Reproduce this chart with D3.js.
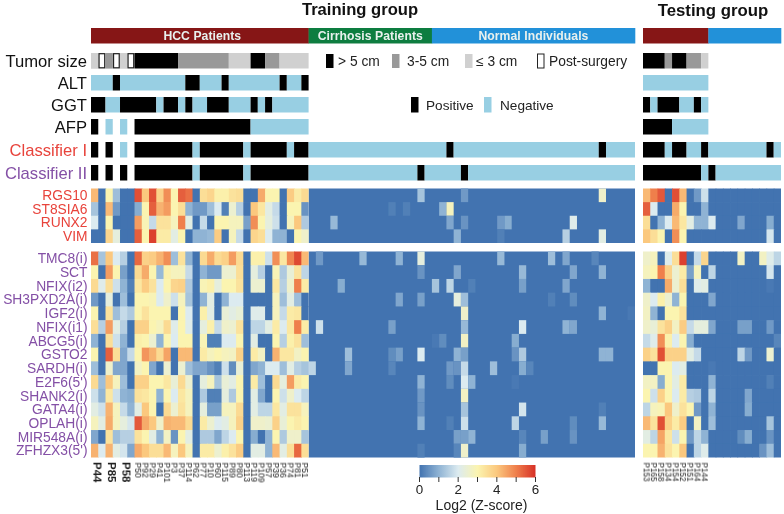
<!DOCTYPE html>
<html><head><meta charset="utf-8">
<style>html,body{margin:0;padding:0;background:#fff}svg{display:block}text{font-family:"Liberation Sans",Arial,sans-serif;filter:blur(.3px)}</style>
<script src="https://cdn.jsdelivr.net/npm/d3@7"></script></head><body>
<svg id="c" width="784" height="514"></svg>
<script>
const genesTop = ["RGS10","ST8SIA6","RUNX2","VIM"];
const genesBottom = ["TMC8(i)","SCT","NFIX(i2)","SH3PXD2A(i)","IGF2(i)","NFIX(i1)","ABCG5(i)","GSTO2","SARDH(i)","E2F6(5')","SHANK2(i)","GATA4(i)","OPLAH(i)","MIR548A(i)","ZFHZX3(5')"];
const trainingPatients = ["P44","","P85","","P58","","P50","P92","P29","P41","P101","P3","P37","P114","P62","P77","P10","P60","P115","P89","P80","P113","P119","P109","P57","P39","P36","P74","P81","P51"];
const testingPatients = ["P153","P165","P158","P134","P154","P152","P151","P164","P144"];
// Log2(Z-score) per gene, HCC patients of the training group (genes in display order)
const hccRows = [
[4.2,0,3,1.2,0,0,5.6,4,5.6,3.8,4.8,3,5.4,5.2,0,3.5,3.7,3.1,3.1,3.4,3.5,0,0,4.4,3,3,0,3.9,3.2,3.6],
[1.3,0,4.2,.6,0,0,.9,3,5.4,4.3,4.6,3,3.5,1,.6,.6,1.2,2,.2,2.5,1.5,0,4,3.3,2.2,1.7,0,3,3,.5],
[2,0,3,0,0,0,4.6,2.9,1.7,3.4,3.4,2.8,5,2.2,0,1.7,0,3,3,2.8,2.8,.7,4.8,3,2.3,1.8,0,2.8,4,1.4],
[0,0,3.7,2.3,0,0,5.4,3,5.8,3.2,3.2,2.2,3,0,1,1,1.1,3.9,0,2.8,1.7,0,3.7,3.5,2,1,1,0,3,2.6],
[5.2,1.3,4,2,1.5,0,5.3,3.8,3.9,4.3,4.8,1.2,3.4,1,0,3.6,4.4,3.6,3.8,4.6,3.6,0,3.1,3.1,1.8,4.8,3.3,4.9,5.7,4.2],
[3,0,4.6,3,.7,0,3.6,4.4,3,1.1,3.1,2.8,2.8,1.7,0,1,.6,.6,2.5,2.5,3.5,0,2.3,1.5,0,2.9,1.4,2.4,3.4,1.6],
[3.6,2.1,3.5,1.8,1,.2,3.3,3.9,3.4,2,3,3.7,3.8,1.4,0,2.9,3.1,2.3,3,3,3.4,0,2.5,2.5,0,3.3,1.5,2.6,5,3.2],
[.6,0,2.3,0,1.2,0,3,3,2.9,2,2.6,1.8,2.8,1.3,0,1,2.2,0,1,2,2,0,0,0,0,2.8,1.2,2.2,1.2,0],
[3,0,3.4,1.2,1.7,1.4,3,3.4,3,3,3,0,3,2,0,3.1,2.2,0,2.4,2.2,2.4,0,2.1,2.1,0,2.8,1.7,3.2,3.3,0],
[3.5,1.5,4.6,2.2,1.5,0,3.8,3.8,3,2.8,3.6,2.1,3,2.1,0,2.3,3.1,1.7,2.6,2.5,3.4,0,1.6,1.6,2.2,3.2,2,3.3,5,3.2],
[1,0,3.5,1.8,1,0,3.1,3,2.5,1,3,2,3,3,0,2.9,.2,.2,2,2,3,0,2.2,0,0,3,1.5,3.1,3.4,1.2],
[3,0,5.4,3.5,.8,1.7,3,4.7,4.3,3.6,4.5,0,4.2,4.2,0,3.2,2.8,3,2.8,2.7,3.8,0,3.2,2.7,0,4.3,3.3,3.3,2.7,3],
[1.2,0,2.6,.8,.8,0,2.7,3,.8,0,2.5,0,2.5,1.2,.8,.8,.5,.2,1.8,.4,2.4,0,.8,1,2,2,1.2,2.2,1.5,1.3],
[3.6,1.2,4,2.8,1.2,0,3.8,3.8,3,3,3.3,2.4,3.6,2.5,0,2.3,2.8,1.3,2.4,2.2,3,0,3.2,1.2,0,3.6,2.3,4.6,3.2,3],
[1.8,1,3.3,1.8,1,.9,3.4,3.3,3,1,3,2,3.3,2.8,0,1.4,.2,.2,2.3,1.4,3,0,2.2,.8,0,3,1.8,2.6,2,1.6],
[2.2,1.8,4.3,2.8,1.7,1,2.2,4,3,0,3.6,2.5,3.4,2.8,0,2.3,.7,.7,2.8,2.8,3.6,0,2.2,1.6,1.6,3.3,2.2,3.4,3.4,2.8],
[2.8,2.2,4.4,2.8,2.3,1.9,5.5,4.4,4,2.6,4.3,4.2,4.2,3.6,0,3.2,2.5,2,2.2,2.8,3.8,0,2.6,2.6,2.5,3.8,2.4,3,3.2,3],
[.8,0,3.4,1.2,1.5,1.5,3.4,3,2.2,1,2.7,.5,3,2.2,0,1.4,1.4,.8,1.6,2,3,0,.9,0,1,3,1.4,2.6,2.6,1.3],
[4.3,2,4.3,2.2,1.9,.8,4.4,4,3.5,3.5,4.2,2.8,4,2.8,0,3.2,3.2,2.5,3.1,3.4,3.9,0,2.2,2.2,1,4.2,2.2,3.5,5.3,3.5]];
// Non-zero cells among the 45 cirrhosis and normal columns of the training group: [gene, column, value]
const controlSpots = [
[0,15,1.3],[0,21,.6],[0,40,2.6],
[1,11,.2],[1,13,.2],[1,18,1],[1,19,2.8],
[2,3,1.1],[2,19,.8],[2,21,.5],[2,26,.6],[2,27,.9],[2,36,2.1],
[3,20,1],[3,26,.2],[3,35,1.5],[3,40,2.2],
[4,1,.6],[4,7,1.1],[4,12,1],[4,15,2.3],[4,26,1.1],[4,33,1.2],[4,35,.8],[4,39,.3],
[5,15,.5],[5,20,.8],[5,29,1.1],[5,36,.8],[5,40,1],
[6,4,.9],[6,17,1.3],[6,19,1.6],[6,22,.2],[6,29,.7],[6,35,.8],
[7,12,.8],[7,15,.7],[7,20,2.3],[7,21,1.2],[7,33,.2],[7,36,.4],
[8,21,2.6],[8,40,1],[8,44,.1],
[9,1,1.8],[9,11,.7],[9,21,1.1],[9,29,2],[9,35,1],[9,36,.8],
[10,17,.1],[10,18,.4],[10,21,2.7],[10,28,.9],
[11,5,1.2],[11,11,.4],[11,12,.7],[11,15,2],[11,20,1],[11,21,.7],[11,28,.5],[11,29,1.4],[11,40,1],[11,41,1],
[12,0,1.6],[12,5,.8],[12,11,.3],[12,19,.6],[12,20,.5],[12,21,1.7],[12,25,1.2],[12,29,.9],[12,30,.3],
[13,15,1],[13,19,.4],[13,21,2],[13,22,1],[13,28,.1],
[14,15,.6],[14,21,2.7],
[15,15,.5],[15,21,1.3],[15,29,1.9],[15,40,.2],
[16,15,1],[16,19,.2],[16,21,1.8],[16,28,1.6],[16,36,.4],[16,40,1.1],
[17,20,.7],[17,21,.7],[17,22,1],[17,29,.3],[17,32,.7],[17,36,.5],
[18,15,.2],[18,20,.3],[18,21,2.6],[18,29,.9]];
// Testing group, 19 columns
const testRows = [
[4.2,5,5.5,0,5.6,4.2,0,.6,1.8,0,0,0,0,0,0,0,0,0,0],
[5.4,2,0,0,4.4,3,0,0,1,0,0,0,0,0,0,0,0,0,0],
[3.5,0,1,2,4.2,3.3,2.2,1,1,2,0,0,0,.8,0,0,0,.9,0],
[4,3.5,3,0,4.8,3,0,0,0,0,0,0,0,0,0,0,0,1.9,0],
[2.6,2.8,0,2.1,3.5,5.8,0,1.7,3.7,0,0,0,0,2.7,0,0,2.7,2.1,1.6],
[2.8,3,5,3.8,2.5,3.2,.7,2.8,0,1.6,0,0,0,0,0,0,0,1.9,0],
[1,0,0,4.4,2.5,3.5,0,2.1,2.2,0,0,0,0,0,0,0,0,.1,0],
[2.6,2,3.1,2.5,1,3,0,0,0,.8,0,0,0,0,0,0,0,0,0],
[2.7,1,0,3,3,3.4,0,0,0,0,0,0,0,0,0,0,0,0,0],
[2.6,2.4,3.4,3.8,2.7,3.9,1.7,2.3,2.3,.8,0,0,0,.7,.7,0,0,.6,0],
[1.7,2.1,4.8,3.1,2,3,.9,0,0,0,0,0,0,0,0,0,0,0,.3],
[3.8,3.4,5.6,3.8,3.8,3.8,2.2,1.7,0,0,0,0,0,1.6,.6,0,0,2.5,0],
[0,0,3,3,2,2.2,0,0,0,.1,0,0,0,0,0,0,0,0,0],
[2.7,2.7,.9,3,2.2,3.2,0,0,0,1,0,0,0,0,0,0,0,.2,0],
[3,1.8,3.8,3,2,3.2,1.5,1.4,0,1.6,0,0,0,0,.8,0,0,0,0],
[1.6,2.8,2.9,4,2.6,3.4,3,.6,0,1,0,0,0,0,.9,0,0,0,0],
[4.2,3.4,5.6,3.8,3.2,3.9,0,2.7,0,1.2,0,0,0,0,0,0,0,1.3,0],
[2.2,1.6,4.5,3.3,1.8,3,.6,1.6,1,0,0,0,0,.4,.9,0,0,.5,0],
[3,3,4.3,3.4,3,4,0,1.6,2.1,0,0,0,0,0,0,0,.5,1.2,0]];
// Clinical tracks: B black, G grey, L light grey, P post-surgery, n negative, . blank
const tracks = ["Tumor size","ALT","GGT","AFP","Classifier I","Classifier II"];
const trackColors = ["#111","#111","#111","#111","#e8433b","#8450a6"];
const trainTracks = [
"LPGPLPBBBBBBGGGGGGGLLLBBGGLLLL",
"nnnBnnnnnnnnnBBnnnBnnnnnnnBnnB",
"BBnnBBBBBnBBnBnnBBBnnnBnBnnnnn",
"B.n.n.BBBBBBBBBBBBBBBBnnnnnnnn",
"B.B.n.BBBBBBBBnBBBBBBnBBBBBnBB"+"nnnnnnnnnnnnnnnnnnnBnnnnnnnnnnnnnnnnnnnnBnnnn",
"B.B.B.BBBBBBBBnBBBBBBnBBBBBBBB"+"nnnnnnnnnnnnnnnBnnnnnBnnnnnnnnnnnnnnnnnnnnnnn"];
const testTracks = [
"BBBGBBGGL",
"nnnnnnnnn",
"BnBBBnnBn",
"BBBBnnnnn",
"BBBnBBnnBnnnnnnnnBn",
"BBBBBBBBnBnnnnnnnnn"];
const trainGroups = [["HCC Patients",30,"#861618"],["Cirrhosis Patients",17,"#0f7d41"],["Normal Individuals",28,"#2191d9"]];
const testGroups = [["",9,"#861618"],["",10,"#2191d9"]];
const sizeLegend = [["> 5 cm","B"],["3-5 cm","G"],["≤ 3 cm","L"],["Post-surgery","P"]];
const statusLegend = [["Positive","B"],["Negative","n"]];
const colorStops = [0,1,2,3,4,5,6];
const colorValues = ["#4273b0","#8fb3d4","#dcebf0","#fbf4b0","#fbc87e","#ef7f4c","#d73027"];
const barTicks = [0,1,2,3,4,5,6];
const barLabels = [0,2,4,6];

const svg = d3.select("#c");
const defs = svg.append("defs");
defs.append("filter").attr("id","soft").attr("x","-2%").attr("y","-2%").attr("width","104%").attr("height","104%")
  .append("feGaussianBlur").attr("stdDeviation",0.55);
const color = d3.scaleLinear().domain(colorStops).range(colorValues).clamp(true);
const trackFill = {B:"#050505",G:"#999999",L:"#d0d0d0",n:"#98cfe3"};

const xTrain = d3.scaleBand().domain(d3.range(75)).range([91,635]);
const xTest = d3.scaleBand().domain(d3.range(19)).range([643,781]);
const yTop = d3.scaleBand().domain(d3.range(genesTop.length)).range([188.5,243]);
const yBot = d3.scaleBand().domain(d3.range(genesBottom.length)).range([251.5,457.5]);
const yGene = i => i < genesTop.length ? yTop(i) : yBot(i-genesTop.length);
const rowH = i => i < genesTop.length ? yTop.bandwidth() : yBot.bandwidth();
const trackTop = d3.scaleOrdinal().domain(tracks).range([53,75,97,119,142,165]);
const trackH = 15.5;

const marks = svg.append("g").attr("filter","url(#soft)");
// group bars
function groupBar(groups,x){
  let c=0;
  groups.forEach(([name,n,fill])=>{
    const x0=x(c), w=x.bandwidth()*n;
    marks.append("rect").attr("x",x0).attr("y",28).attr("width",w+.3).attr("height",15.5).attr("fill",fill);
    if(name) svg.append("text").attr("x",x0+w/2+(c===0?2.5:0)).attr("y",39.5).attr("text-anchor","middle")
      .attr("font-size",12.2).attr("font-weight","bold").attr("fill","#e9f1ee").attr("letter-spacing",0.05).text(name);
    c+=n;
  });
}
groupBar(trainGroups,xTrain); groupBar(testGroups,xTest);
// clinical tracks: consecutive equal cells become one run
function runsOf(s){
  const out=[]; Array.from(s).forEach((k,i)=>{
    const last=out[out.length-1];
    if(last && last.k===k && k!=="P") last.n++; else out.push({k,i,n:1});
  });
  return out.filter(d=>d.k!==".");
}
function drawTracks(rows,x){
  rows.forEach((s,r)=>{
    const y=trackTop(tracks[r]);
    marks.append("g").selectAll("rect").data(runsOf(s)).join("rect")
      .attr("x",d=>d.k==="P"?x(d.i)+0.8:x(d.i)).attr("y",d=>d.k==="P"?y+0.7:y)
      .attr("width",d=>d.k==="P"?x.bandwidth()-1.6:x.bandwidth()*d.n).attr("height",d=>d.k==="P"?trackH-1.4:trackH)
      .attr("fill",d=>d.k==="P"?"#fff":trackFill[d.k])
      .attr("stroke",d=>d.k==="P"?"#222":"none").attr("stroke-width",1.2);
  });
}
// light-grey base behind the post-surgery boxes in the tumour row
marks.append("rect").attr("x",xTrain(0)).attr("y",trackTop(tracks[0])).attr("width",xTrain.bandwidth()*6).attr("height",trackH).attr("fill",trackFill.L);
drawTracks(trainTracks,xTrain); drawTracks(testTracks,xTest);
// heat cells
function heat(rows,x){
  rows.forEach((vals,r)=>{
    marks.append("g").selectAll("rect").data(vals).join("rect")
      .attr("x",(d,i)=>x(i)).attr("y",yGene(r))
      .attr("width",(d,i)=>x.bandwidth()+(i<vals.length-1?0.7:0)).attr("height",rowH(r)+(r===3||r===18?0:0.7)).attr("fill",d=>color(d));
  });
}
[[188.5,243],[251.5,457.5]].forEach(([a,b])=>{
  marks.append("rect").attr("x",xTrain(30)).attr("y",a).attr("width",xTrain.bandwidth()*45).attr("height",b-a).attr("fill",color(0));
});
heat(hccRows,xTrain);
heat(testRows,xTest);
marks.append("g").selectAll("rect").data(controlSpots).join("rect")
  .attr("x",d=>xTrain(30+d[1])).attr("y",d=>yGene(d[0]))
  .attr("width",xTrain.bandwidth()).attr("height",d=>rowH(d[0])).attr("fill",d=>color(d[2]));
// track labels
tracks.forEach((t,i)=>{
  svg.append("text").attr("x",87).attr("y",trackTop(t)+trackH/2+5.8).attr("text-anchor","end")
    .attr("font-size",16.6).attr("fill",trackColors[i]).text(t);
});
// gene labels
genesTop.concat(genesBottom).forEach((g,i)=>{
  svg.append("text").attr("x",87.5).attr("y",yGene(i)+rowH(i)/2+4.8).attr("text-anchor","end")
    .attr("font-size",13.8).attr("fill",i<genesTop.length?"#e8433b":"#8450a6").text(g);
});
// patient labels
function patients(list,x,big,size){
  list.forEach((p,i)=>{
    if(!p) return;
    const large = big.includes(p);
    const px = x(i)+x.bandwidth()/2;
    svg.append("text").attr("transform",`translate(${px+(large?-1.2:-3)},${large?462:462.5}) rotate(90)`)
      .attr("font-size",large?11.5:size).attr("font-weight",large?"bold":"normal").attr("fill","#222").text(p);
  });
}
patients(trainingPatients,xTrain,["P44","P85","P58"],8.6);
patients(testingPatients,xTest,[],8.2);
// titles
svg.append("text").attr("x",360).attr("y",15).attr("text-anchor","middle").attr("font-size",16.6).attr("font-weight","bold").attr("fill","#111").text("Training group");
svg.append("text").attr("x",713).attr("y",15.5).attr("text-anchor","middle").attr("font-size",16.8).attr("font-weight","bold").attr("fill","#111").text("Testing group");
// legends
const sizeX = d3.scaleOrdinal().domain(sizeLegend.map(d=>d[0])).range([326,392,465,537]);
const textX = d3.scaleOrdinal().domain(sizeLegend.map(d=>d[0])).range([338,407,476,549]);
sizeLegend.forEach(([t,k])=>{
  marks.append("rect").attr("x",sizeX(t)+(k==="P"?.5:0)).attr("y",54).attr("width",k==="P"?6.5:7.5).attr("height",14)
    .attr("fill",k==="P"?"#fff":trackFill[k]).attr("stroke",k==="P"?"#222":"none");
  svg.append("text").attr("x",textX(t)).attr("y",66).attr("font-size",13.8).attr("fill","#222").text(t);
});
const stX = d3.scaleOrdinal().domain(statusLegend.map(d=>d[0])).range([411,484]);
const stT = d3.scaleOrdinal().domain(statusLegend.map(d=>d[0])).range([426,500]);
statusLegend.forEach(([t,k])=>{
  marks.append("rect").attr("x",stX(t)).attr("y",97).attr("width",7.5).attr("height",15.5).attr("fill",trackFill[k]);
  svg.append("text").attr("x",stT(t)).attr("y",110).attr("font-size",13.6).attr("fill","#222").text(t);
});
// colour bar
const bx = d3.scaleLinear().domain([0,6]).range([419.5,535.5]);
const grad = defs.append("linearGradient").attr("id","cb");
colorStops.forEach((s,i)=>grad.append("stop").attr("offset",s/6).attr("stop-color",colorValues[i]));
marks.append("rect").attr("x",bx(0)).attr("y",465).attr("width",bx(6)-bx(0)).attr("height",12.5).attr("fill","url(#cb)");
svg.append("g").selectAll("line").data(barTicks).join("line").attr("x1",d=>bx(d)).attr("x2",d=>bx(d)).attr("y1",477).attr("y2",482).attr("stroke","#333").attr("stroke-width",1);
svg.append("g").selectAll("text").data(barLabels).join("text").attr("x",d=>bx(d)).attr("y",494).attr("text-anchor","middle").attr("font-size",13.4).attr("fill","#222").text(d=>d);
svg.append("text").attr("x",481.5).attr("y",509.5).attr("text-anchor","middle").attr("font-size",14).attr("fill","#222").text("Log2 (Z-score)");
</script></body></html>
